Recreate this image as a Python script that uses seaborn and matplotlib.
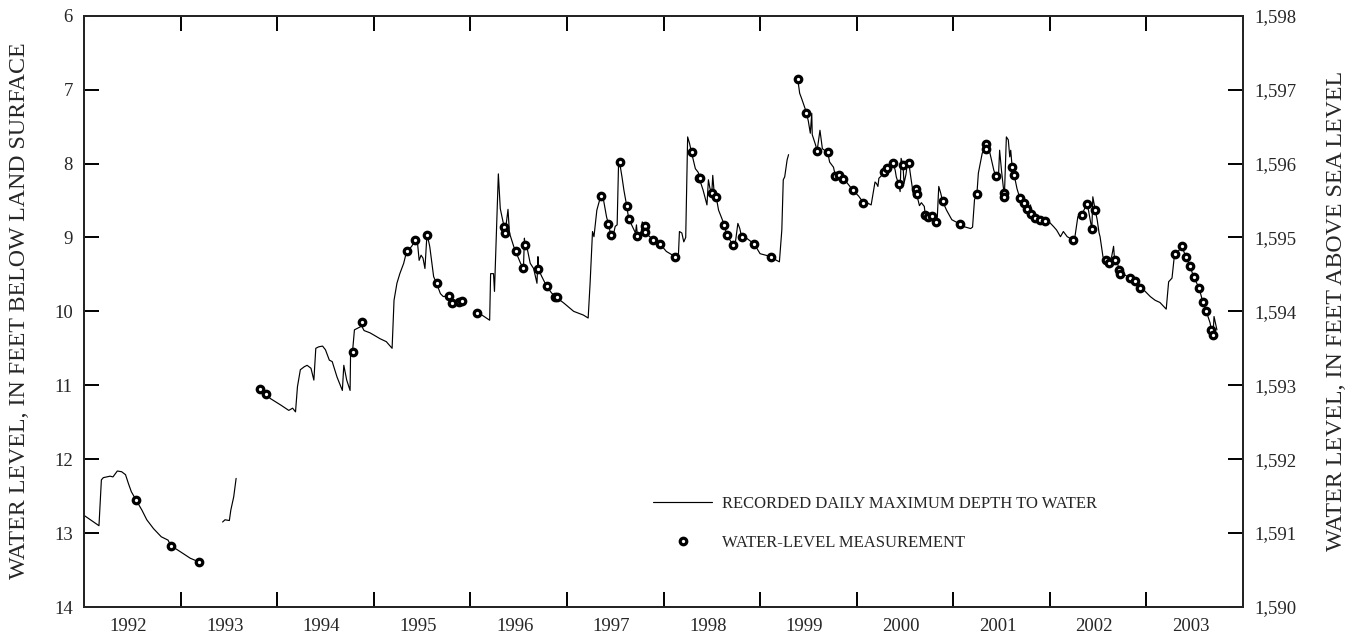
import numpy as np
import pandas as pd
import matplotlib
matplotlib.use("Agg")
import matplotlib.pyplot as plt
import seaborn as sns
from matplotlib.lines import Line2D
from matplotlib.ticker import FuncFormatter, FixedLocator

# ---------------- data ----------------
# recorded daily maximum depth to water (decimal year, feet below land surface)
line_year = [
    1992.00, 1992.155, 1992.18, 1992.20, 1992.27, 1992.30, 1992.345, 1992.39, 1992.43, 1992.46,
    1992.49, 1992.54, 1992.60, 1992.65, 1992.72, 1992.80, 1992.87, 1992.90, 1992.995, 1993.10, 1993.19,
    1993.435, 1993.46, 1993.505, 1993.52, 1993.55, 1993.575,
    1993.82, 1993.88, 1993.93, 1994.04, 1994.12, 1994.16, 1994.19, 1994.21, 1994.24, 1994.28,
    1994.31, 1994.35, 1994.38, 1994.40, 1994.43, 1994.47, 1994.50, 1994.54, 1994.57, 1994.62,
    1994.675, 1994.69, 1994.72, 1994.755, 1994.76, 1994.78, 1994.80, 1994.875, 1994.90, 1994.96,
    1995.00, 1995.065, 1995.13, 1995.19, 1995.21, 1995.24, 1995.27, 1995.31, 1995.34, 1995.39,
    1995.43, 1995.45, 1995.47, 1995.49, 1995.51, 1995.53, 1995.55, 1995.555, 1995.58, 1995.62,
    1995.65, 1995.69, 1995.72, 1995.78, 1995.815, 1995.88, 1995.91,
    1996.07, 1996.12, 1996.20, 1996.21, 1996.24, 1996.25, 1996.29, 1996.31, 1996.35, 1996.36,
    1996.39, 1996.405, 1996.45, 1996.47, 1996.52, 1996.55, 1996.56, 1996.565, 1996.585, 1996.62,
    1996.655, 1996.69, 1996.70, 1996.705, 1996.74, 1996.79, 1996.84, 1996.88, 1996.97, 1997.07,
    1997.17, 1997.22, 1997.24, 1997.265, 1997.28, 1997.31, 1997.35, 1997.38, 1997.41, 1997.43,
    1997.455, 1997.47, 1997.50, 1997.52, 1997.535, 1997.545, 1997.57, 1997.59, 1997.62, 1997.64,
    1997.67, 1997.71, 1997.72, 1997.73, 1997.77, 1997.78, 1997.81, 1997.84, 1997.895, 1997.965,
    1998.03, 1998.12, 1998.155, 1998.165, 1998.19, 1998.21, 1998.23, 1998.25, 1998.27, 1998.29,
    1998.33, 1998.36, 1998.37, 1998.41, 1998.45, 1998.465, 1998.48, 1998.50, 1998.51, 1998.525,
    1998.545, 1998.57, 1998.63, 1998.655, 1998.72, 1998.745, 1998.77, 1998.79, 1998.81, 1998.86,
    1998.90, 1998.94, 1999.00, 1999.115, 1999.17, 1999.20, 1999.225, 1999.24, 1999.255, 1999.28, 1999.295,
    1999.39, 1999.41, 1999.43, 1999.48, 1999.50, 1999.52, 1999.535, 1999.54, 1999.575, 1999.59,
    1999.62, 1999.645, 1999.70, 1999.72, 1999.76, 1999.78, 1999.82, 1999.86, 1999.90, 1999.96,
    2000.02, 2000.07, 2000.12, 2000.15, 2000.19, 2000.205, 2000.22, 2000.23, 2000.26, 2000.28,
    2000.31, 2000.34, 2000.38, 2000.40, 2000.41, 2000.435, 2000.45, 2000.46, 2000.48, 2000.49,
    2000.51, 2000.53, 2000.54, 2000.56, 2000.59, 2000.61, 2000.62, 2000.65, 2000.67, 2000.70,
    2000.71, 2000.74, 2000.78, 2000.82, 2000.835, 2000.85, 2000.87, 2000.89, 2000.93, 2000.985,
    2001.07, 2001.10, 2001.18, 2001.20, 2001.22, 2001.245, 2001.26, 2001.30, 2001.34, 2001.38,
    2001.42, 2001.44, 2001.47, 2001.48, 2001.50, 2001.52, 2001.53, 2001.55, 2001.57, 2001.585,
    2001.595, 2001.61, 2001.63, 2001.66, 2001.69, 2001.73, 2001.76, 2001.79, 2001.80, 2001.81,
    2001.85, 2001.90, 2001.95, 2002.00, 2002.04, 2002.07, 2002.11, 2002.14, 2002.18, 2002.235,
    2002.26, 2002.29, 2002.33, 2002.38, 2002.40, 2002.43, 2002.435, 2002.445, 2002.47, 2002.49,
    2002.51, 2002.52, 2002.53, 2002.55, 2002.57, 2002.61, 2002.64, 2002.66, 2002.67, 2002.70,
    2002.72, 2002.73, 2002.78, 2002.83, 2002.88, 2002.93, 2002.98, 2003.04, 2003.09, 2003.14,
    2003.205, 2003.23, 2003.265, 2003.29, 2003.30, 2003.34, 2003.365, 2003.41, 2003.45, 2003.49,
    2003.545, 2003.585, 2003.62, 2003.66, 2003.67, 2003.69, 2003.70, 2003.73,
]
line_depth = [
    12.76, 12.90, 12.28, 12.25, 12.23, 12.24, 12.16, 12.17, 12.21, 12.33,
    12.44, 12.555, 12.69, 12.82, 12.94, 13.05, 13.095, 13.17, 13.25, 13.34, 13.39,
    12.85, 12.82, 12.83, 12.69, 12.51, 12.26,
    11.05, 11.12, 11.18, 11.27, 11.34, 11.31, 11.36, 11.02, 10.79, 10.75,
    10.73, 10.77, 10.93, 10.50, 10.48, 10.47, 10.52, 10.66, 10.68, 10.89,
    11.07, 10.73, 10.93, 11.07, 10.57, 10.55, 10.25, 10.20, 10.26, 10.29,
    10.32, 10.37, 10.41, 10.50, 9.85, 9.62, 9.49, 9.35, 9.19, 9.125,
    9.04, 9.03, 9.31, 9.24, 9.28, 9.42, 8.98, 8.97, 9.125, 9.53,
    9.62, 9.76, 9.80, 9.79, 9.89, 9.87, 9.855,
    10.02, 10.05, 10.12, 9.49, 9.49, 9.73, 8.14, 8.61, 8.86, 8.94,
    8.62, 8.94, 9.125, 9.19, 9.35, 9.41, 9.01, 9.10, 9.125, 9.35,
    9.42, 9.62, 9.26, 9.43, 9.53, 9.66, 9.75, 9.80, 9.89, 10.00,
    10.05, 10.09, 9.62, 8.92, 8.99, 8.63, 8.44, 8.50, 8.72, 8.82,
    8.97, 9.03, 8.85, 8.83, 7.98, 7.98, 8.18, 8.36, 8.58, 8.75,
    8.83, 8.94, 8.83, 8.98, 8.92, 8.79, 8.85, 8.97, 9.03, 9.09,
    9.19, 9.26, 9.22, 8.92, 8.94, 9.06, 9.00, 7.64, 7.73, 7.85,
    8.07, 8.12, 8.20, 8.36, 8.56, 8.22, 8.33, 8.40, 8.16, 8.40,
    8.45, 8.63, 8.83, 8.97, 9.10, 9.06, 8.81, 8.88, 9.00, 9.01,
    9.05, 9.09, 9.22, 9.26, 9.31, 9.33, 8.90, 8.22, 8.18, 7.95, 7.88,
    6.86, 7.05, 7.12, 7.31, 7.43, 7.59, 7.32, 7.61, 7.75, 7.83,
    7.55, 7.80, 7.85, 7.98, 8.05, 8.17, 8.16, 8.21, 8.26, 8.36,
    8.44, 8.53, 8.54, 8.56, 8.25, 8.27, 8.31, 8.20, 8.16, 8.11,
    8.065, 8.10, 7.99, 8.10, 8.18, 8.28, 8.38, 7.93, 8.02, 8.27,
    8.15, 7.95, 7.99, 8.18, 8.45, 8.34, 8.41, 8.57, 8.53, 8.58,
    8.69, 8.73, 8.71, 8.79, 8.72, 8.31, 8.40, 8.51, 8.63, 8.76,
    8.82, 8.85, 8.88, 8.86, 8.49, 8.41, 8.13, 7.86, 7.77, 7.86,
    8.09, 8.17, 8.12, 7.82, 8.10, 8.34, 8.42, 7.64, 7.68, 7.91,
    7.82, 8.05, 8.15, 8.34, 8.47, 8.53, 8.62, 8.68, 8.56, 8.68,
    8.74, 8.76, 8.78, 8.80, 8.855, 8.90, 8.99, 8.92, 8.99, 9.03,
    8.99, 8.72, 8.70, 8.55, 8.63, 8.855, 8.89, 8.45, 8.63, 8.76,
    8.94, 8.99, 9.08, 9.26, 9.31, 9.34, 9.26, 9.12, 9.30, 9.35,
    9.44, 9.49, 9.51, 9.55, 9.59, 9.68, 9.72, 9.80, 9.85, 9.88,
    9.97, 9.60, 9.55, 9.24, 9.22, 9.17, 9.11, 9.27, 9.38, 9.54,
    9.68, 9.88, 10.00, 10.16, 10.25, 10.32, 10.07, 10.25,
]
# last recorded day before each gap in the record
gap_after_year = [1993.19, 1993.575, 1995.91, 1999.295]

# periodic water-level measurements
meas_year = [
    1992.54, 1992.90, 1993.19, 1993.82, 1993.88, 1994.78, 1994.875, 1995.34, 1995.43, 1995.555,
    1995.65, 1995.78, 1995.815, 1995.88, 1995.91, 1996.07, 1996.35, 1996.36, 1996.47, 1996.55,
    1996.565, 1996.705, 1996.79, 1996.88, 1996.90, 1997.35, 1997.43, 1997.455, 1997.545, 1997.62,
    1997.64, 1997.73, 1997.81, 1997.81, 1997.895, 1997.965, 1998.12, 1998.29, 1998.37, 1998.38,
    1998.50, 1998.545, 1998.63, 1998.655, 1998.72, 1998.81, 1998.94, 1999.115, 1999.39,
    1999.48, 1999.59, 1999.70, 1999.78, 1999.82, 1999.86, 1999.96, 2000.07, 2000.28, 2000.31,
    2000.38, 2000.435, 2000.48, 2000.54, 2000.61, 2000.62, 2000.71, 2000.74, 2000.78, 2000.82,
    2000.89, 2001.07, 2001.245, 2001.34, 2001.34, 2001.44, 2001.53, 2001.53, 2001.61, 2001.63,
    2001.69, 2001.73, 2001.76, 2001.81, 2001.85, 2001.90, 2001.95, 2002.235, 2002.33, 2002.38,
    2002.435, 2002.47, 2002.58, 2002.61, 2002.67, 2002.72, 2002.73, 2002.83, 2002.88, 2002.93,
    2003.30, 2003.365, 2003.41, 2003.45, 2003.49, 2003.545, 2003.585, 2003.62, 2003.67, 2003.69,
]
meas_depth = [
    12.555, 13.17, 13.39, 11.05, 11.12, 10.55, 10.14, 9.19, 9.04, 8.97,
    9.62, 9.79, 9.89, 9.87, 9.855, 10.02, 8.86, 8.94, 9.19, 9.41,
    9.10, 9.43, 9.66, 9.80, 9.80, 8.44, 8.82, 8.97, 7.98, 8.58,
    8.75, 8.98, 8.85, 8.92, 9.03, 9.09, 9.26, 7.85, 8.20, 8.19,
    8.40, 8.45, 8.83, 8.97, 9.10, 9.00, 9.09, 9.26, 6.86,
    7.31, 7.83, 7.85, 8.17, 8.16, 8.21, 8.36, 8.53, 8.11, 8.065,
    7.99, 8.28, 8.02, 7.99, 8.34, 8.41, 8.69, 8.73, 8.71, 8.79,
    8.51, 8.82, 8.41, 7.74, 7.81, 8.17, 8.40, 8.45, 8.05, 8.15,
    8.47, 8.53, 8.62, 8.68, 8.74, 8.76, 8.78, 9.03, 8.70, 8.55,
    8.89, 8.63, 9.31, 9.34, 9.30, 9.44, 9.49, 9.55, 9.59, 9.68,
    9.22, 9.11, 9.27, 9.38, 9.54, 9.68, 9.88, 10.00, 10.25, 10.32,
]

year_labels = [str(y) for y in range(1992, 2004)]
left_ticks = [6, 7, 8, 9, 10, 11, 12, 13, 14]
land_surface_altitude = 1604  # feet above sea level (elevation = altitude - depth)

# ---------------- plotting ----------------
sns.set_style("ticks")
plt.rcParams["font.family"] = ["Liberation Serif", "DejaVu Serif"]

n = min(len(line_year), len(line_depth))
ly = np.array(line_year[:n])
seg_id = np.searchsorted(np.array(gap_after_year), ly, side="left")
df_line = pd.DataFrame({"year": ly, "depth": line_depth[:n], "seg": seg_id})
m = min(len(meas_year), len(meas_depth))
df_meas = pd.DataFrame({"year": meas_year[:m], "depth": meas_depth[:m]})

fig = plt.figure(figsize=(13.65, 6.37), dpi=100)
ax = fig.add_axes([84 / 1365, 1 - 607 / 637, (1243 - 84) / 1365, (607 - 15.7) / 637])

sns.lineplot(data=df_line, x="year", y="depth", units="seg", estimator=None,
             color="black", linewidth=0.85, ax=ax, legend=False, sort=False)
sns.scatterplot(data=df_meas, x="year", y="depth", marker="o", s=22,
                facecolor="white", edgecolor="black", linewidth=2.3, zorder=5, ax=ax,
                legend=False)

ax.set_xlim(1992, 2004)
ax.set_ylim(14, 6)

tick_kw = dict(direction="in", length=11, width=1.4, color="black")
ax.xaxis.set_major_locator(FixedLocator(list(range(1992, 2005))))
ax.xaxis.set_minor_locator(FixedLocator([int(y) + 0.46 for y in year_labels]))
ax.xaxis.set_major_formatter(FuncFormatter(lambda v, p: ""))
ax.xaxis.set_minor_formatter(FuncFormatter(lambda v, p: str(int(np.floor(v)))))
ax.tick_params(axis="x", which="major", top=True, bottom=True, **tick_kw)
ax.tick_params(axis="x", which="minor", length=0, labelsize=13.5, pad=8, top=False)

ax.set_yticks(left_ticks)
ax.set_yticklabels([str(t) for t in left_ticks])
ax.tick_params(axis="y", which="major", left=True, right=False, labelsize=13.5, pad=8, **tick_kw)

for sp in ax.spines.values():
    sp.set_linewidth(1.4)
    sp.set_color("black")
    sp.set_visible(True)

ax.set_xlabel("")
ax.set_ylabel("")

ax2 = ax.twinx()
ax2.set_ylim(land_surface_altitude - 14, land_surface_altitude - 6)
ax2.set_yticks([land_surface_altitude - t for t in left_ticks])
ax2.yaxis.set_major_formatter(FuncFormatter(lambda v, p: f"{int(round(v)):,}"))
ax2.tick_params(axis="y", which="major", labelsize=13.5, pad=8, **tick_kw)
for sp in ax2.spines.values():
    sp.set_linewidth(1.4)
ax2.set_ylabel("")

fig.text(20 / 1365, 1 - 311 / 637, "WATER LEVEL, IN FEET BELOW LAND SURFACE",
         rotation=90, ha="center", va="center", fontsize=17.2)
fig.text(1336 / 1365, 1 - 311 / 637, "WATER LEVEL, IN FEET ABOVE SEA LEVEL",
         rotation=90, ha="center", va="center", fontsize=17.2)

handles = [
    Line2D([0], [0], color="black", linewidth=0.85),
    Line2D([0], [0], linestyle="none", marker="o", markersize=4.7,
           markerfacecolor="white", markeredgecolor="black", markeredgewidth=2.3),
]
labels = ["RECORDED DAILY MAXIMUM DEPTH TO WATER", "WATER-LEVEL MEASUREMENT"]
ax.legend(handles, labels, loc="center left", bbox_to_anchor=(653 / 1365, 1 - 523.5 / 637),
          bbox_transform=fig.transFigure, frameon=False, fontsize=12, borderpad=0,
          handlelength=3.55, handletextpad=0.6, labelspacing=1.35, borderaxespad=0)

fig.savefig("out.png", dpi=100)
